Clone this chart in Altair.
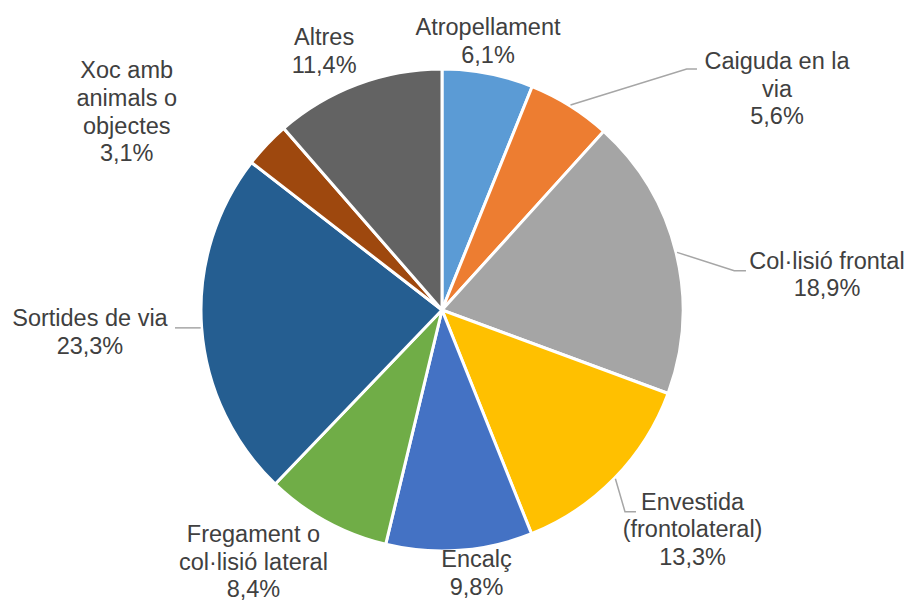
import math
import altair as alt
import pandas as pd

# ---- data ----
categories = [
    "Atropellament", "Caiguda en la via", "Col·lisió frontal",
    "Envestida (frontolateral)", "Encalç", "Fregament o col·lisió lateral",
    "Sortides de via", "Xoc amb animals o objectes", "Altres",
]
label_lines = [
    ["Atropellament"], ["Caiguda en la", "via"], ["Col·lisió frontal"],
    ["Envestida", "(frontolateral)"], ["Encalç"], ["Fregament o", "col·lisió lateral"],
    ["Sortides de via"], ["Xoc amb", "animals o", "objectes"], ["Altres"],
]
values = [6.1, 5.6, 18.9, 13.3, 9.8, 8.4, 23.3, 3.1, 11.4]
colors = ["#5B9BD5", "#ED7D31", "#A5A5A5", "#FFC000", "#4472C4",
          "#70AD47", "#255E91", "#9E480E", "#636363"]

# ---- layout (not data) ----
W, H = 898, 594
CX, CY = 434, 302
R = 241
FS, LH = 23.5, 27.8
# label block centre, as (shift from slice mid-angle in degrees, radius in px)
label_shift_deg = [-1.25, 24.6, 8.66, -2.9, -3.3, 8.1, 0.5, -11.3, -4.0]
label_radius = [272, 401, 386.5, 333.7, 266.2, 315.2, 352.8, 371.9, 283.8]
# leader lines: slice index, elbow angle (deg), elbow radius, horizontal extension
leaders = [(1, 45.44, 343.4, 10.3), (2, 82.34, 294.9, 11.7),
           (3, 137.78, 272.3, 11.0), (6, 266.2, 267.6, 0.0)]

total = sum(values)
cum = 0.0
mids = []
for v in values:
    mids.append(cum + v / 2)
    cum += v

def fmt(v):
    return f"{v:.1f}".replace(".", ",") + "%"

def polar(ang_deg, r):
    a = math.radians(ang_deg)
    return CX + r * math.sin(a), CY - r * math.cos(a)

# Vega anchors the first line of a multi-line label: move anchor up
label_pos, label_r = [], []
for i, (lines, v) in enumerate(zip(label_lines, values)):
    n = len(lines) + 1
    ang = mids[i] / total * 360 + label_shift_deg[i]
    bx, by = polar(ang, label_radius[i])
    fy = by - (n - 1) * LH / 2
    dx, dy = bx - CX, fy - CY
    a = math.degrees(math.atan2(dx, -dy)) % 360
    label_pos.append(a / 360 * total)
    label_r.append(math.hypot(dx, dy))

df = pd.DataFrame({
    "category": categories,
    "value": values,
    "order": list(range(len(values))),
    "label": ["\n".join(lines + [fmt(v)]) for lines, v in zip(label_lines, values)],
    "label_pos": label_pos,
    "label_r": label_r,
})

rows = []
for i, ea, er, ext in leaders:
    sa = mids[i] / total * 360
    x0, y0 = polar(sa, R + 1)
    x1, y1 = polar(ea, er)
    if ext == 0:
        y1 = y0
    pts = [(x0, y0), (x1, y1)]
    if ext:
        pts.append((x1 + ext, y1))
    for k, (x, y) in enumerate(pts):
        rows.append({"seg": categories[i], "step": k, "px": x, "py": y})
lead_df = pd.DataFrame(rows)

theta_scale = alt.Scale(domain=[0, total], range=[0, 2 * math.pi])

arcs = alt.Chart(df).mark_arc(stroke="white", strokeWidth=3).encode(
    theta=alt.Theta("value:Q", stack=True, scale=theta_scale),
    color=alt.Color("category:N", scale=alt.Scale(domain=categories, range=colors), legend=None),
    order=alt.Order("order:Q"),
    x=alt.value(CX),
    y=alt.value(CY),
    radius=alt.value(R),
)

texts = alt.Chart(df).mark_text(
    font="Liberation Sans", fontSize=FS, lineHeight=LH, lineBreak="\n",
    color="#404040", align="center", baseline="middle",
).encode(
    theta=alt.Theta("label_pos:Q", stack=False, scale=theta_scale),
    radius=alt.Radius("label_r:Q", scale=None),
    text=alt.Text("label:N"),
    x=alt.value(CX),
    y=alt.value(CY),
)

lines = alt.Chart(lead_df).mark_line(color="#A6A6A6", strokeWidth=1.5).encode(
    x=alt.X("px:Q", scale=None, axis=None),
    y=alt.Y("py:Q", scale=None, axis=None),
    detail="seg:N",
    order="step:Q",
)

chart = alt.layer(arcs, lines, texts).properties(
    width=W, height=H, padding=0,
    autosize=alt.AutoSizeParams(type="none"),
    background="white",
).configure_view(stroke=None)

chart.save("out.html", embed_options={"renderer": "svg", "actions": False})
